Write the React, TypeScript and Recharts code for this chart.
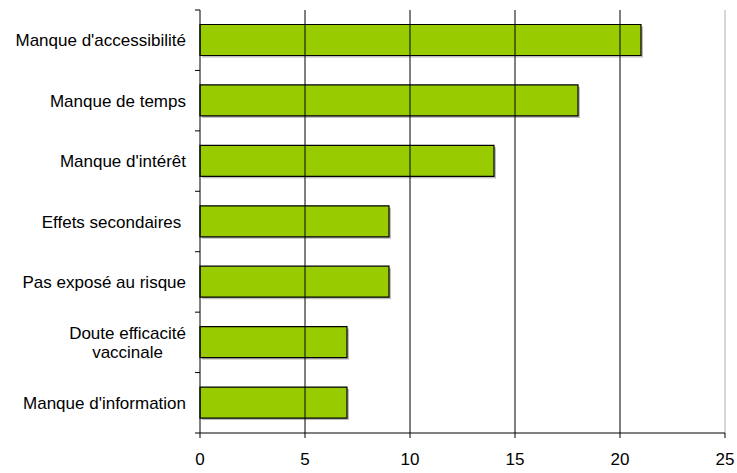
import React from "react";
import { BarChart, Bar, XAxis, YAxis, ReferenceLine, Rectangle } from "recharts";

const categories = [
  "Manque d'accessibilité",
  "Manque de temps",
  "Manque d'intérêt",
  "Effets secondaires ",
  "Pas exposé au risque",
  "Doute efficacité\nvaccinale",
  "Manque d'information",
];
const values = [21, 18, 14, 9, 9, 7, 7];
const xTicks = [0, 5, 10, 15, 20, 25];
const gridValues = [5, 10, 15, 20];

const data = categories.map((name, i) => ({ name, value: values[i] }));

const W = 737;
const H = 473;
const MARGIN = { top: 10, right: 12, bottom: 0, left: 0 };
const X_AXIS_H = 40;
const Y_AXIS_W = 200;
const FONT = "'Liberation Sans', Arial, sans-serif";
const FONT_SIZE = 17;

const halfBand = (H - MARGIN.top - MARGIN.bottom - X_AXIS_H) / categories.length / 2;

let ctx: CanvasRenderingContext2D | null = null;
const measure = (s: string) => {
  if (!ctx) ctx = document.createElement("canvas").getContext("2d");
  if (!ctx) return s.length * 8;
  ctx.font = `${FONT_SIZE}px ${FONT}`;
  return ctx.measureText(s).width;
};

const CategoryTick = (props: any) => {
  const { x, y, payload, index } = props;
  const lines = String(payload.value).split("\n");
  const right = x - 14;
  const blockW = Math.max(...lines.map(measure));
  const lineH = 19;
  const startY = y - ((lines.length - 1) * lineH) / 2;
  return (
    <g>
      <line x1={x - 5} x2={x} y1={y - halfBand} y2={y - halfBand} stroke="#000" />
      {index === categories.length - 1 && (
        <line x1={x - 5} x2={x} y1={y + halfBand} y2={y + halfBand} stroke="#000" />
      )}
      {lines.map((ln, i) => (
        <text
          key={i}
          x={lines.length > 1 ? right - blockW / 2 : right}
          y={startY + i * lineH}
          dy="0.36em"
          textAnchor={lines.length > 1 ? "middle" : "end"}
          fontSize={FONT_SIZE}
          fontFamily={FONT}
          fill="#000"
          style={{ whiteSpace: "pre" }}
        >
          {ln}
        </text>
      ))}
    </g>
  );
};

const ShadowBar = (props: any) => {
  const { x, y, width, height } = props;
  return (
    <g>
      <rect x={x + 2} y={y + 2} width={width} height={height} fill="#bdbdbd" />
      <Rectangle x={x} y={y} width={width} height={height} fill="#99CC00" stroke="#000" strokeWidth={1.2} />
    </g>
  );
};

export default function App() {
  return (
    <div style={{ position: "fixed", left: 0, top: 0, background: "#fff" }}>
      <BarChart
        width={W}
        height={H}
        data={data}
        layout="vertical"
        margin={MARGIN}
        barCategoryGap="24%"
      >
        <XAxis
          type="number"
          domain={[0, 25]}
          ticks={xTicks}
          interval={0}
          height={X_AXIS_H}
          stroke="#000"
          tickSize={5}
          tickMargin={15}
          tick={{ fill: "#000", fontSize: FONT_SIZE, fontFamily: FONT }}
        />
        <YAxis
          type="category"
          dataKey="name"
          width={Y_AXIS_W}
          stroke="#000"
          tickLine={false}
          tickSize={0}
          tickMargin={0}
          interval={0}
          tick={<CategoryTick />}
        />
        {gridValues.map((v) => (
          <ReferenceLine key={v} x={v} stroke="#000" strokeWidth={1} />
        ))}
        <ReferenceLine x={25} stroke="#c8c8c8" strokeWidth={1.5} />
        <Bar dataKey="value" shape={<ShadowBar />} isAnimationActive={false} />
      </BarChart>
    </div>
  );
}
